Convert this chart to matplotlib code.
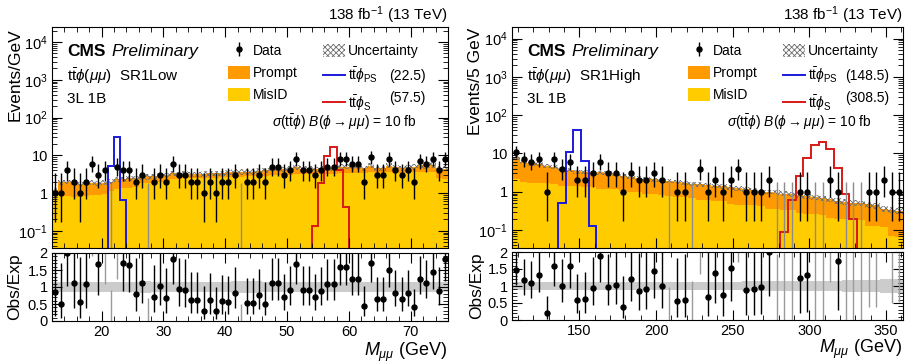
import numpy as np
import matplotlib
matplotlib.use("Agg")
import matplotlib.pyplot as plt
from matplotlib.patches import Patch
from matplotlib.lines import Line2D
from matplotlib.ticker import (FixedLocator, FixedFormatter, MultipleLocator,
                               LogLocator, NullFormatter)

plt.rcParams['font.family'] = ['Liberation Sans', 'DejaVu Sans']
plt.rcParams['mathtext.fontset'] = 'custom'
plt.rcParams['mathtext.rm'] = 'Liberation Sans'
plt.rcParams['mathtext.it'] = 'Liberation Sans:italic'
plt.rcParams['mathtext.bf'] = 'Liberation Sans:bold'
plt.rcParams['hatch.linewidth'] = 0.6
plt.rcParams['hatch.color'] = '#6e6e6e'

# ---------------- data: SR1Low (1 GeV bins, 12-76 GeV) ----------------
low_edges = list(range(12, 77))
low_data = [1, 1, 4, 2, 1, 2, 6, 3, 4, 0, 5, 4, 4, 2, 3, 0, 2, 3, 2, 6,
            3, 3, 2, 2, 1, 2, 1, 2, 2, 3, 0, 2, 2, 3, 2, 5, 5, 3, 4, 8,
            4, 4, 3, 4, 5, 5, 8, 8, 6, 6, 2, 9, 3, 3, 8, 4, 3, 4, 2, 7,
            6, 8, 4, 8]
low_misid = [0.85, 0.9, 0.85, 0.8, 0.8, 0.85, 0.9, 0.9, 0.95, 1.1,
             1.3, 1.35, 1.4, 1.45, 1.85, 1.9, 1.95, 2.0, 2.0, 2.4,
             2.4, 2.45, 2.45, 2.5, 2.5, 2.5, 2.55, 2.6, 2.6, 2.7,
             2.7, 2.75, 2.75, 2.8, 2.8, 3.0, 3.0, 3.0, 3.05, 3.1,
             3.1, 3.1, 3.1, 3.15, 3.15, 3.2, 3.4, 3.4, 3.35, 3.35,
             3.3, 3.5, 3.4, 3.4, 3.5, 3.4, 3.3, 3.4, 3.5, 3.6,
             3.5, 3.6, 2.5, 2.4]
low_prompt = [0.33, 1.05, 1.15, 1.0, 0.95, 1.0, 1.0, 0.9, 0.95, 0.9,
              1.0, 1.0, 1.05, 1.05, 0.8, 0.85, 0.85, 0.95, 1.0, 0.9,
              0.8, 0.8, 0.75, 0.7, 0.75, 0.8, 0.75, 0.8, 0.9, 1.0,
              1.0, 0.95, 0.95, 1.1, 1.2, 1.5, 1.5, 1.3, 1.35, 1.7,
              1.3, 1.3, 1.2, 1.35, 1.45, 1.4, 1.6, 1.6, 1.45, 1.45,
              1.2, 1.8, 1.2, 1.2, 1.8, 1.4, 1.3, 1.4, 1.5, 2.0,
              1.8, 2.0, 2.0, 2.0]
low_unc = [0.16, 0.14, 0.14, 0.15, 0.15, 0.15, 0.14, 0.14, 0.14, 0.15,
           0.15, 0.16, 0.16, 0.16, 0.17, 0.17, 0.16, 0.16, 0.16, 0.16,
           0.16, 0.16, 0.16, 0.16, 0.16, 0.16, 0.16, 0.16, 0.16, 0.17,
           0.17, 0.17, 0.17, 0.17, 0.16, 0.16, 0.16, 0.16, 0.16, 0.16,
           0.16, 0.16, 0.16, 0.16, 0.16, 0.16, 0.15, 0.15, 0.15, 0.15,
           0.15, 0.15, 0.15, 0.15, 0.15, 0.15, 0.16, 0.16, 0.16, 0.16,
           0.16, 0.16, 0.15, 0.15]
# signal yields keyed by lower bin edge (GeV)
low_sig_ps = {21: 5.2, 22: 31.0, 23: 0.65}
low_sig_s = {54: 0.13, 55: 1.8, 56: 9.8, 57: 17.0, 58: 4.2, 59: 0.42}

# ---------------- data: SR1High (5 GeV bins, 106-361 GeV) ----------------
high_edges = list(range(106, 362, 5))
high_data = [11, 7, 6, 7, 1, 7, 4, 6, 2, 2, 3, 6, 3, 3, 1, 3, 2, 2, 3, 2,
             0, 1, 1, 0, 4, 1, 2, 1, 2, 4, 1, 1, 1, 2, 0, 0, 0, 1, 1, 0,
             0, 2, 1, 0, 0, 0, 1, 1, 2, 1, 1]
high_misid = [2.1, 1.75, 1.7, 1.7, 1.65, 1.6, 1.45, 1.4, 1.4, 1.35,
              1.3, 1.2, 1.2, 1.15, 1.05, 1.0, 1.0, 0.88, 0.85, 0.82,
              0.76, 0.74, 0.72, 0.7, 0.62, 0.6, 0.58, 0.56, 0.47, 0.46,
              0.45, 0.44, 0.42, 0.36, 0.35, 0.34, 0.33, 0.28, 0.27, 0.26,
              0.25, 0.21, 0.2, 0.2, 0.19, 0.18, 0.13, 0.13, 0.12, 0.07,
              0.065]
high_prompt = [5.4, 4.25, 3.8, 3.6, 2.95, 2.8, 2.55, 2.4, 2.0, 1.95,
               1.9, 2.0, 1.85, 1.75, 1.5, 1.5, 1.35, 1.32, 1.25, 1.18,
               1.14, 1.06, 0.98, 0.92, 0.93, 0.9, 0.87, 0.82, 0.83, 0.76,
               0.7, 0.66, 0.62, 0.64, 0.6, 0.56, 0.52, 0.52, 0.49, 0.46,
               0.43, 0.43, 0.38, 0.35, 0.33, 0.32, 0.34, 0.31, 0.24, 0.27,
               0.255]
high_unc = [0.12, 0.12, 0.12, 0.12, 0.12, 0.12, 0.12, 0.12, 0.12, 0.12,
            0.12, 0.12, 0.12, 0.12, 0.12, 0.12, 0.12, 0.12, 0.12, 0.12,
            0.13, 0.13, 0.13, 0.13, 0.13, 0.13, 0.13, 0.13, 0.13, 0.13,
            0.14, 0.14, 0.14, 0.14, 0.14, 0.15, 0.15, 0.15, 0.15, 0.15,
            0.16, 0.16, 0.16, 0.17, 0.17, 0.17, 0.18, 0.18, 0.2, 0.2,
            0.2]
high_sig_ps = {136: 0.5, 141: 11.0, 146: 40.0, 151: 6.3, 156: 0.13}
high_sig_s = {281: 0.09, 286: 0.6, 291: 2.6, 296: 7.5, 301: 17.0,
              306: 20.0, 311: 13.0, 316: 4.1, 321: 0.9, 326: 0.2}

# Garwood 68% Poisson interval bounds for N = 0..12
poisson_lo = [0.0, 0.173, 0.708, 1.367, 2.086, 2.840, 3.620, 4.419, 5.232,
              6.057, 6.891, 7.734, 8.585]
poisson_hi = [1.841, 3.300, 4.638, 5.918, 7.163, 8.382, 9.584, 10.77, 11.95,
              13.11, 14.27, 15.42, 16.56]

C_PROMPT = '#ff9a00'
C_MISID = '#ffcc00'
C_UNC = '#6e6e6e'
C_PS = '#1a1adb'
C_S = '#d81818'

W, H = 906, 363
fig = plt.figure(figsize=(W / 100, H / 100), dpi=100)


def px_axes(x0, y0, x1, y1):
    return fig.add_axes([x0 / W, 1 - y1 / H, (x1 - x0) / W, (y1 - y0) / H])


def draw_panel(ax, axr, edges, data, prompt, misid, unc, sig_ps, sig_s,
               xlim, ylim, xmaj, xmin):
    edges = np.asarray(edges, float)
    centers = 0.5 * (edges[:-1] + edges[1:])
    data = np.asarray(data)
    prompt = np.asarray(prompt, float)
    misid = np.asarray(misid, float)
    unc = np.asarray(unc, float)
    total = prompt + misid
    base = 1e-5

    ax.stairs(total, edges, baseline=base, fill=True, color=C_PROMPT, lw=0)
    ax.stairs(misid, edges, baseline=base, fill=True, color=C_MISID, lw=0)
    ax.stairs(total * (1 + unc), edges, baseline=total * (1 - unc), fill=True,
              facecolor='none', edgecolor=C_UNC, hatch='xxxxxx', lw=0)

    ps = np.array([sig_ps.get(int(e), 0.0) for e in edges[:-1]])
    ss = np.array([sig_s.get(int(e), 0.0) for e in edges[:-1]])
    ax.stairs(np.where(ps > 0, ps, base), edges, baseline=base, color=C_PS, lw=1.4)
    ax.stairs(np.where(ss > 0, ss, base), edges, baseline=base, color=C_S, lw=1.4)

    lo = np.array([poisson_lo[n] for n in data])
    hi = np.array([poisson_hi[n] for n in data])
    m = data > 0
    ax.vlines(centers[~m], base, hi[~m], colors='#8c8c8c', lw=1.0)
    eb = ax.errorbar(centers[m], data[m], yerr=[data[m] - lo[m], hi[m] - data[m]],
                     fmt='o', ms=3.6, color='black', elinewidth=1.0, capsize=0)

    ratio = data / total
    rlo = lo / total
    rhi = hi / total
    axr.stairs(1 + unc, edges, baseline=1 - unc, fill=True, color='#cccccc', lw=0)
    inr = m & (ratio <= 2.0)
    off = m & (ratio > 2.0)
    axr.vlines(centers[~m], 0, rhi[~m], colors='#9a9a9a', lw=1.0)
    axr.vlines(centers[off], rlo[off], 2.1, colors='#9a9a9a', lw=1.0)
    axr.errorbar(centers[inr], ratio[inr],
                 yerr=[ratio[inr] - rlo[inr], rhi[inr] - ratio[inr]],
                 fmt='o', ms=3.6, color='black', elinewidth=1.0, capsize=0)

    ax.set_yscale('log')
    ax.set_xlim(*xlim)
    ax.set_ylim(*ylim)
    ax.yaxis.set_major_locator(FixedLocator([0.1, 1, 10, 100, 1000, 10000]))
    ax.yaxis.set_major_formatter(FixedFormatter(
        [r'$10^{-1}$', '1', '10', r'$10^{2}$', r'$10^{3}$', r'$10^{4}$']))
    ax.yaxis.set_minor_locator(LogLocator(base=10, subs=np.arange(2, 10), numticks=30))
    ax.yaxis.set_minor_formatter(NullFormatter())
    for a in (ax, axr):
        a.xaxis.set_major_locator(MultipleLocator(xmaj))
        a.xaxis.set_minor_locator(MultipleLocator(xmin))
        a.tick_params(which='both', direction='in', top=True, right=True,
                      labelsize=10.5, pad=3)
        a.tick_params(which='major', length=7, width=0.8)
        a.tick_params(which='minor', length=3.5, width=0.6)
        a.set_xlim(*xlim)
    ax.tick_params(labelbottom=False)
    axr.set_ylim(0, 2)
    axr.yaxis.set_major_locator(FixedLocator([0, 0.5, 1, 1.5, 2]))
    axr.yaxis.set_major_formatter(FixedFormatter(['0', '0.5', '1', '1.5', '2']))
    axr.yaxis.set_minor_locator(MultipleLocator(0.1))
    return eb


def decorate(ax, eb, region, m_ps, m_s, xl):
    tr = ax.transAxes
    ax.text(1.0, 1.032, r'138 fb$^{-1}$ (13 TeV)', transform=tr, ha='right',
            va='baseline', fontsize=11)
    ax.text(0.038, 0.887, 'CMS', transform=tr, fontsize=12.5, fontweight='bold',
            va='center', ha='left')
    ax.text(0.038 + 0.113, 0.887, 'Preliminary', transform=tr, fontsize=12.5,
            style='italic', va='center', ha='left')
    ax.text(0.038, 0.778, r'$\mathrm{t\bar{t}}\phi(\mu\mu)$  ' + region,
            transform=tr, fontsize=11, va='center', ha='left')
    ax.text(0.038, 0.674, '3L 1B', transform=tr, fontsize=11, va='center', ha='left')
    handles = [eb,
               Patch(facecolor=C_PROMPT, edgecolor='none'),
               Patch(facecolor=C_MISID, edgecolor='none'),
               Patch(facecolor='white', edgecolor=C_UNC, hatch='xxxxxx', lw=0),
               Line2D([], [], color=C_PS, lw=1.4),
               Line2D([], [], color=C_S, lw=1.4)]
    labels = ['Data', 'Prompt', 'MisID', 'Uncertainty',
              r'$\mathrm{t\bar{t}}\phi_{\mathrm{PS}}$',
              r'$\mathrm{t\bar{t}}\phi_{\mathrm{S}}$']
    ax.legend(handles, labels, ncol=2, loc='upper left',
              bbox_to_anchor=(xl, 0.925), frameon=False, fontsize=10,
              handlelength=1.6, handleheight=1.1, handletextpad=0.2,
              labelspacing=0.55, columnspacing=1.8, borderpad=0,
              borderaxespad=0)
    ax.text(0.852, 0.778, m_ps, transform=tr, fontsize=10, va='center', ha='left')
    ax.text(0.852, 0.679, m_s, transform=tr, fontsize=10, va='center', ha='left')
    ax.text(0.92, 0.57, r'$\sigma(\mathrm{t\bar{t}}\phi)\ B(\phi\rightarrow\mu\mu)$ = 10 fb',
            transform=tr, fontsize=10, va='center', ha='right')


axL = px_axes(52, 27, 448, 248)
axLr = px_axes(52, 253, 448, 321)
axR = px_axes(512, 27, 903, 248)
axRr = px_axes(512, 252, 903, 320)

ebL = draw_panel(axL, axLr, low_edges, low_data, low_prompt, low_misid, low_unc,
                 low_sig_ps, low_sig_s, (12, 76), (0.035, 2.5e4), 10, 2)
ebR = draw_panel(axR, axRr, high_edges, high_data, high_prompt, high_misid, high_unc,
                 high_sig_ps, high_sig_s, (106, 361), (0.034, 2.0e4), 50, 10)

decorate(axL, ebL, 'SR1Low', '(22.5)', '(57.5)', 0.444)
decorate(axR, ebR, 'SR1High', '(148.5)', '(308.5)', 0.45)

fs_lab = 12.5
fig.text(15 / W, 1 - 28 / H, 'Events/GeV', rotation=90, ha='center', va='top', fontsize=fs_lab)
fig.text(475 / W, 1 - 28 / H, 'Events/5 GeV', rotation=90, ha='center', va='top', fontsize=fs_lab)
fig.text(15 / W, 1 - 287 / H, 'Obs/Exp', rotation=90, ha='center', va='center', fontsize=fs_lab)
fig.text(477 / W, 1 - 286 / H, 'Obs/Exp', rotation=90, ha='center', va='center', fontsize=fs_lab)
fig.text(447 / W, 1 - 352 / H, r'$M_{\mu\mu}$ (GeV)', ha='right', va='center', fontsize=13)
fig.text(902 / W, 1 - 349 / H, r'$M_{\mu\mu}$ (GeV)', ha='right', va='center', fontsize=13)

fig.savefig('out.png', dpi=100)
